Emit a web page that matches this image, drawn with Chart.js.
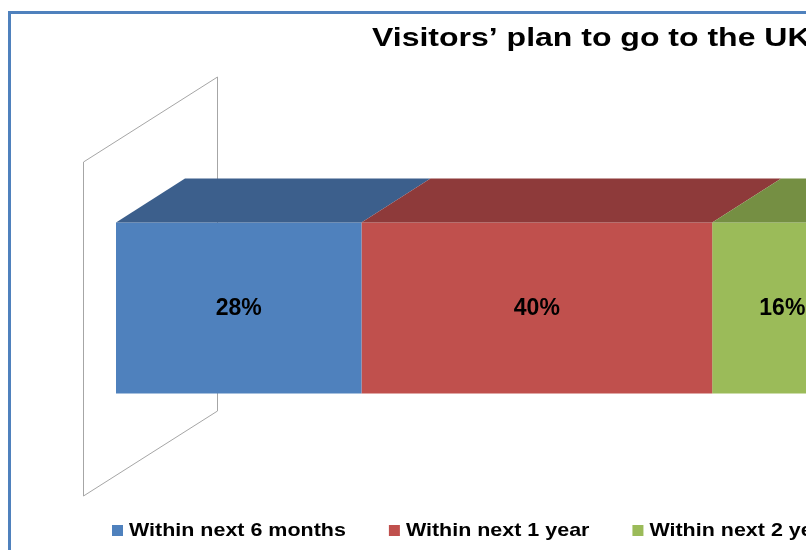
<!DOCTYPE html>
<html>
<head>
<meta charset="utf-8">
<script src="https://cdn.jsdelivr.net/npm/chart.js@4.4.1/dist/chart.umd.min.js"></script>
<style>
  html, body { margin: 0; padding: 0; background: #fff; overflow: hidden; }
  #wrap { width: 806px; height: 550px; }
</style>
</head>
<body>
<div id="wrap"><canvas id="chart" width="806" height="550"></canvas></div>
<script>
const categories = ['Visitors'];
const seriesNames = ['Within next 6 months', 'Within next 1 year', 'Within next 2 years'];
const seriesValues = [28, 40, 16];
const frontColors = ['#4F81BD', '#C0504D', '#9BBB59'];
const topColors = ['#3C5F8C', '#8E3A3A', '#758F43'];
const titleText = 'Visitors’ plan to go to the UK';

// 3d look: depth offset of the bar top, and of the side wall
const DX = 69, DY = -44;

const chart3d = {
    id: 'chart3d',
    beforeDraw(chart) {
        const c = chart.ctx;
        c.save();
        c.fillStyle = '#fff';
        c.fillRect(0, 0, chart.width, chart.height);
        c.strokeStyle = '#4F81BD';
        c.lineWidth = 3;
        c.strokeRect(9.5, 12.5, chart.width + 20, chart.height + 20);
        c.restore();
    },
    beforeDatasetsDraw(chart) {
        const c = chart.ctx;
        const area = chart.chartArea;
        const x0 = chart.scales.x.getPixelForValue(0);
        const fx = x0 - 33, fy = 21;      // front edge of wall
        const bx = x0 + 101, by = -64;    // back edge of wall
        c.save();
        c.strokeStyle = '#A6A6A6';
        c.lineWidth = 1;
        c.beginPath();
        c.moveTo(fx + 0.5, area.top + fy);
        c.lineTo(bx + 0.5, area.top + by);
        c.lineTo(bx + 0.5, area.bottom + by);
        c.lineTo(fx + 0.5, area.bottom + fy);
        c.closePath();
        c.stroke();
        c.restore();
    },
    afterDatasetsDraw(chart) {
        const c = chart.ctx;
        c.save();
        chart.data.datasets.forEach((ds, i) => {
            const bar = chart.getDatasetMeta(i).data[0];
            const p = bar.getProps(['x', 'y', 'base', 'height'], true);
            const top = p.y - p.height / 2;
            c.fillStyle = topColors[i];
            c.beginPath();
            c.moveTo(p.base, top);
            c.lineTo(p.x, top);
            c.lineTo(p.x + DX, top + DY);
            c.lineTo(p.base + DX, top + DY);
            c.closePath();
            c.fill();
        });
        c.fillStyle = '#000';
        c.font = 'bold 23px "Liberation Sans", Arial, sans-serif';
        c.textAlign = 'center';
        c.textBaseline = 'middle';
        chart.data.datasets.forEach((ds, i) => {
            const bar = chart.getDatasetMeta(i).data[0];
            const p = bar.getProps(['x', 'y', 'base'], true);
            c.fillText(ds.data[0] + '%', (p.x + p.base) / 2, p.y + 1);
        });
        c.restore();
    },
    afterDraw(chart) {
        const c = chart.ctx;
        c.save();
        c.fillStyle = '#000';
        c.textBaseline = 'alphabetic';
        c.textAlign = 'left';
        // title, drawn a bit wide like the original
        c.translate(372, 46);
        c.scale(1.28, 1);
        c.font = 'bold 25px "Liberation Sans", Arial, sans-serif';
        c.fillText(titleText, 0, 0);
        c.restore();

        // legend
        c.save();
        c.font = 'bold 19px "Liberation Sans", Arial, sans-serif';
        c.textBaseline = 'alphabetic';
        let x = 112;
        const sx = 1.13;
        seriesNames.forEach((name, i) => {
            c.fillStyle = frontColors[i];
            c.fillRect(x, 525, 11, 11);
            x += 17;
            c.fillStyle = '#000';
            c.save();
            c.translate(x, 536);
            c.scale(sx, 1);
            c.fillText(name, 0, 0);
            c.restore();
            x += c.measureText(name).width * sx + 43;
        });
        c.restore();
    }
};

new Chart(document.getElementById('chart'), {
    type: 'bar',
    data: {
        labels: categories,
        datasets: seriesNames.map((name, i) => ({
            label: name,
            data: [seriesValues[i]],
            backgroundColor: frontColors[i],
            borderWidth: 0,
            barPercentage: 0.512,
            categoryPercentage: 1
        }))
    },
    options: {
        indexAxis: 'y',
        responsive: false,
        animation: false,
        layout: { padding: { left: 116, right: 0, top: 141, bottom: 75 } },
        scales: {
            x: { stacked: true, min: 0, max: 78.7, display: false },
            y: { stacked: true, display: false }
        },
        plugins: {
            legend: { display: false },
            title: { display: false },
            tooltip: { enabled: false }
        }
    },
    plugins: [chart3d]
});
</script>
</body>
</html>
